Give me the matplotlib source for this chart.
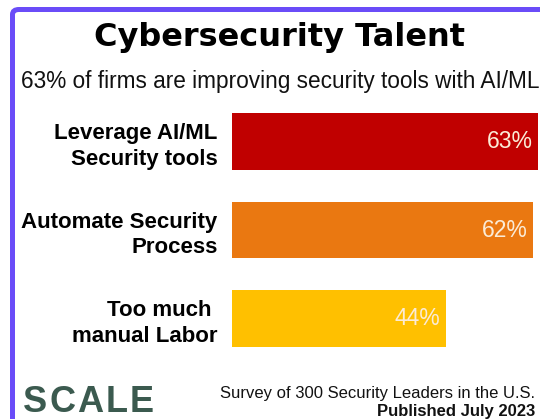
import matplotlib.pyplot as plt
from matplotlib.patches import FancyBboxPatch

categories = ["Leverage AI/ML\nSecurity tools", "Automate Security\nProcess", "Too much \nmanual Labor"]
values = [63, 62, 44]
colors = ["#C00000", "#EA7811", "#FFC000"]

title = "Cybersecurity Talent"
subtitle = "63% of firms are improving security tools with AI/ML"
source = "Survey of 300 Security Leaders in the U.S."
published = "Published July 2023"
logo = "SCALE"

plt.rcParams['font.family'] = ['Liberation Sans', 'DejaVu Sans']

W, H = 540, 419
fig = plt.figure(figsize=(W / 100, H / 100), dpi=100)
fig.patch.set_facecolor("white")

# purple frame, runs off the right and bottom edges
frame = FancyBboxPatch((12.5 / W, -0.2), 1.2, 1.2 - 9.5 / H,
                       boxstyle="round,pad=0,rounding_size=0.012",
                       transform=fig.transFigure, fill=False,
                       edgecolor="#6A4CF8", linewidth=3.6, clip_on=False)
fig.patches.append(frame)

ax = fig.add_axes([232 / W, 56 / H, 306 / W, 266 / H])
y = range(len(values))
ax.barh(y, values, height=0.64, color=colors)
ax.set_xlim(0, max(values))
ax.set_ylim(len(values) - 0.5, -0.5)
ax.set_yticks(list(y))
ax.set_yticklabels(categories, fontsize=16, fontweight="bold", linespacing=1.3)
ax.tick_params(axis="y", length=0, pad=10.5)
ax.set_xticks([])
for s in ax.spines.values():
    s.set_visible(False)

for i, v in enumerate(values):
    ax.annotate(f"{v}%", xy=(v, i), xytext=(-4, 0), textcoords="offset points",
                ha="right", va="center", fontsize=16.5, color="#FBEBD6")

fig.text(280 / W, 1 - 46 / H, title, ha="center", va="baseline",
         fontsize=23, fontweight="bold", color="black", family="DejaVu Sans")
fig.text(280 / W, 1 - 88 / H, subtitle, ha="center", va="baseline",
         fontsize=16.3, color="#111111")

# logo letters with a little extra tracking
renderer = fig.canvas.get_renderer()
x = 23
for ch in logo:
    t = fig.text(x / W, 1 - 412 / H, ch, ha="left", va="baseline",
                 fontsize=26, fontweight="bold", color="#3B5A4F")
    x += t.get_window_extent(renderer).width + 2.2

fig.text(535 / W, 1 - 398 / H, source, ha="right", va="baseline",
         fontsize=12, color="#111111")
fig.text(535 / W, 1 - 416 / H, published, ha="right", va="baseline",
         fontsize=12, fontweight="bold", color="#111111")

fig.savefig("out.png", dpi=100, facecolor="white")
